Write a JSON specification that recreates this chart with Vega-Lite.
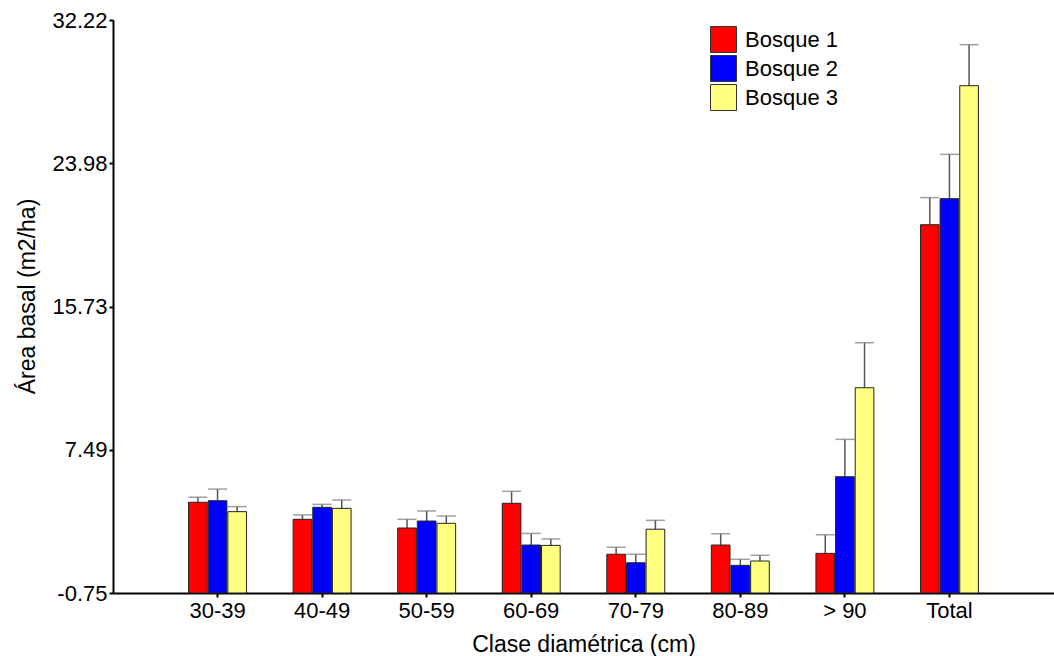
{
  "$schema": "https://vega.github.io/schema/vega-lite/v6.json",
  "width": 941,
  "height": 573,
  "autosize": {"type": "none"},
  "padding": {"left": 113, "top": 20, "right": 0, "bottom": 63},
  "background": "white",
  "config": {
    "view": {"stroke": null},
    "font": "Liberation Sans",
    "axis": {
      "grid": false,
      "domainColor": "#000000",
      "domainWidth": 2,
      "tickColor": "#000000",
      "tickWidth": 2,
      "tickSize": 4,
      "labelFont": "Liberation Sans",
      "labelFontSize": 22,
      "labelColor": "#000000",
      "titleFont": "Liberation Sans",
      "titleFontSize": 23,
      "titleFontWeight": "normal",
      "titleColor": "#000000"
    },
    "legend": {
      "labelFont": "Liberation Sans",
      "labelFontSize": 22,
      "labelColor": "#000000"
    }
  },
  "data": {
    "values": [
      {"clase": "30-39", "bosque": "Bosque 1", "valor": 4.47, "sup": 4.76},
      {"clase": "30-39", "bosque": "Bosque 2", "valor": 4.56, "sup": 5.23},
      {"clase": "30-39", "bosque": "Bosque 3", "valor": 3.93, "sup": 4.22},
      {"clase": "40-49", "bosque": "Bosque 1", "valor": 3.49, "sup": 3.74},
      {"clase": "40-49", "bosque": "Bosque 2", "valor": 4.18, "sup": 4.35},
      {"clase": "40-49", "bosque": "Bosque 3", "valor": 4.12, "sup": 4.60},
      {"clase": "50-59", "bosque": "Bosque 1", "valor": 2.99, "sup": 3.49},
      {"clase": "50-59", "bosque": "Bosque 2", "valor": 3.39, "sup": 3.97},
      {"clase": "50-59", "bosque": "Bosque 3", "valor": 3.26, "sup": 3.68},
      {"clase": "60-69", "bosque": "Bosque 1", "valor": 4.41, "sup": 5.10},
      {"clase": "60-69", "bosque": "Bosque 2", "valor": 2.01, "sup": 2.68},
      {"clase": "60-69", "bosque": "Bosque 3", "valor": 1.99, "sup": 2.36},
      {"clase": "70-79", "bosque": "Bosque 1", "valor": 1.48, "sup": 1.88},
      {"clase": "70-79", "bosque": "Bosque 2", "valor": 0.99, "sup": 1.48},
      {"clase": "70-79", "bosque": "Bosque 3", "valor": 2.92, "sup": 3.43},
      {"clase": "80-89", "bosque": "Bosque 1", "valor": 2.01, "sup": 2.66},
      {"clase": "80-89", "bosque": "Bosque 2", "valor": 0.84, "sup": 1.19},
      {"clase": "80-89", "bosque": "Bosque 3", "valor": 1.09, "sup": 1.42},
      {"clase": "> 90", "bosque": "Bosque 1", "valor": 1.53, "sup": 2.60},
      {"clase": "> 90", "bosque": "Bosque 2", "valor": 5.94, "sup": 8.09},
      {"clase": "> 90", "bosque": "Bosque 3", "valor": 11.06, "sup": 13.65},
      {"clase": "Total", "bosque": "Bosque 1", "valor": 20.44, "sup": 22.00},
      {"clase": "Total", "bosque": "Bosque 2", "valor": 21.94, "sup": 24.49},
      {"clase": "Total", "bosque": "Bosque 3", "valor": 28.44, "sup": 30.80}
    ]
  },
  "encoding": {
    "x": {
      "field": "clase",
      "type": "nominal",
      "sort": ["30-39", "40-49", "50-59", "60-69", "70-79", "80-89", "> 90", "Total"],
      "scale": {"paddingInner": 0.446, "paddingOuter": 0.723},
      "axis": {
        "title": "Clase diamétrica (cm)",
        "labelAngle": 0,
        "labelPadding": 3.5,
        "titleY": 58,
        "titleBaseline": "alphabetic"
      }
    },
    "xOffset": {
      "field": "bosque",
      "type": "nominal",
      "scale": {"paddingInner": 0.05}
    }
  },
  "layer": [
    {
      "mark": {"type": "rule", "color": "#555555", "strokeWidth": 1.5},
      "encoding": {
        "y": {
          "field": "valor",
          "type": "quantitative",
          "title": "Área basal (m2/ha)",
          "scale": {"domain": [-0.75, 32.22], "nice": false, "zero": false}
        },
        "y2": {"field": "sup"}
      }
    },
    {
      "mark": {"type": "tick", "color": "#777777", "thickness": 1.5, "size": 19, "orient": "horizontal"},
      "encoding": {
        "y": {
          "field": "sup",
          "type": "quantitative",
          "title": "Área basal (m2/ha)",
          "scale": {"domain": [-0.75, 32.22], "nice": false, "zero": false}
        }
      }
    },
    {
      "mark": {"type": "bar", "stroke": "#222222", "strokeWidth": 1},
      "encoding": {
        "y": {
          "field": "valor",
          "type": "quantitative",
          "title": "Área basal (m2/ha)",
          "scale": {"domain": [-0.75, 32.22], "nice": false, "zero": false},
          "axis": {
            "values": [-0.75, 7.49, 15.73, 23.98, 32.22],
            "labelExpr": "replace(format(datum.value, '.2f'), '\u2212', '-')",
            "labelPadding": 2,
            "titleX": -86,
            "titleY": 276,
            "titleBaseline": "middle"
          }
        },
        "y2": {"datum": -0.75},
        "color": {
          "field": "bosque",
          "type": "nominal",
          "scale": {"domain": ["Bosque 1", "Bosque 2", "Bosque 3"], "range": ["#ff0000", "#0000ff", "#ffff80"]},
          "legend": {
            "title": null,
            "orient": "none",
            "legendX": 597,
            "legendY": 6,
            "symbolType": "square",
            "symbolSize": 676,
            "symbolStrokeColor": "#333333",
            "symbolStrokeWidth": 1,
            "labelOffset": 8,
            "rowPadding": -2
          }
        }
      }
    }
  ]
}
